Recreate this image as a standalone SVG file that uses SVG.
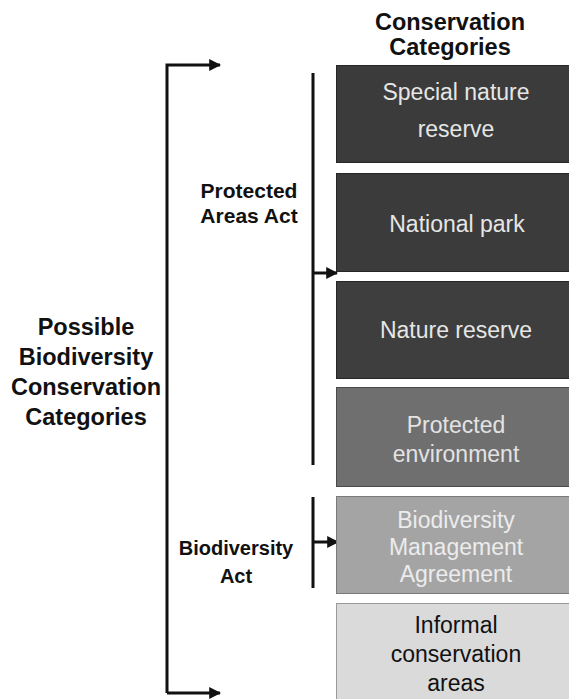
<svg xmlns="http://www.w3.org/2000/svg" width="569" height="699" viewBox="0 0 569 699">
<style>
.lbl{font-family:"Liberation Sans",Arial,sans-serif;font-weight:bold;fill:#111;text-anchor:middle}
.bx{font-family:"Liberation Sans",Arial,sans-serif;text-anchor:middle;font-size:23px}
.ln{stroke:#111;stroke-width:3;fill:none}
</style>
<defs>
<marker id="ah" viewBox="0 0 10 10" refX="9" refY="5" markerWidth="4" markerHeight="4" orient="auto" markerUnits="strokeWidth">
<path d="M0,0 L10,5 L0,10 z" fill="#111"/>
</marker>
</defs>
<rect width="569" height="699" fill="#fff"/>
<g id="heading">
<text class="lbl" x="450" y="30" font-size="23.5">Conservation</text>
<text class="lbl" x="450" y="55" font-size="23.5">Categories</text>
</g>
<g id="possible">
<text class="lbl" x="86" y="335" font-size="23.5">Possible</text>
<text class="lbl" x="86" y="365" font-size="23.5">Biodiversity</text>
<text class="lbl" x="86" y="395" font-size="23.5">Conservation</text>
<text class="lbl" x="86" y="425" font-size="23.5">Categories</text>
</g>
<g id="paa">
<text class="lbl" x="249" y="198" font-size="21">Protected</text>
<text class="lbl" x="249" y="223" font-size="21">Areas Act</text>
</g>
<g id="ba">
<text class="lbl" x="236" y="555" font-size="20">Biodiversity</text>
<text class="lbl" x="236" y="583" font-size="20">Act</text>
</g>
<g id="connectors">
<path class="ln" d="M167,693 V65 H220" marker-end="url(#ah)"/>
<path class="ln" d="M167,693 H220" marker-end="url(#ah)"/>
<path class="ln" d="M313,73 V465"/>
<path class="ln" d="M313,273 H337" marker-end="url(#ah)"/>
<path class="ln" d="M313,497 V588"/>
<path class="ln" d="M313,542 H338" marker-end="url(#ah)"/>
</g>
<g id="n1">
<rect x="336.5" y="65.5" width="240" height="97" fill="#3b3b3b" stroke="#262626"/>
<text class="bx" x="456" y="100" fill="#e6e6e6">Special nature</text>
<text class="bx" x="456" y="137" fill="#e6e6e6">reserve</text>
</g>
<g id="n2">
<rect x="336.5" y="173.5" width="240" height="98" fill="#3b3b3b" stroke="#262626"/>
<text class="bx" x="457" y="232" fill="#e6e6e6">National park</text>
</g>
<g id="n3">
<rect x="336.5" y="281.5" width="240" height="97" fill="#3e3e3e" stroke="#262626"/>
<text class="bx" x="456" y="338" fill="#e6e6e6">Nature reserve</text>
</g>
<g id="n4">
<rect x="336.5" y="387.5" width="240" height="99" fill="#6f6f6f" stroke="#4a4a4a"/>
<text class="bx" x="456" y="433" fill="#e3e3e3">Protected</text>
<text class="bx" x="456" y="462" fill="#e3e3e3">environment</text>
</g>
<g id="n5">
<rect x="336.5" y="496.5" width="240" height="97" fill="#a4a4a4" stroke="#7a7a7a"/>
<text class="bx" x="456" y="528" fill="#ececec">Biodiversity</text>
<text class="bx" x="456" y="555" fill="#ececec">Management</text>
<text class="bx" x="456" y="582" fill="#ececec">Agreement</text>
</g>
<g id="n6">
<rect x="336.5" y="603.5" width="240" height="100" fill="#dadada" stroke="#9a9a9a"/>
<text class="bx" x="456" y="633" fill="#111">Informal</text>
<text class="bx" x="456" y="662" fill="#111">conservation</text>
<text class="bx" x="456" y="691" fill="#111">areas</text>
</g>
</svg>
